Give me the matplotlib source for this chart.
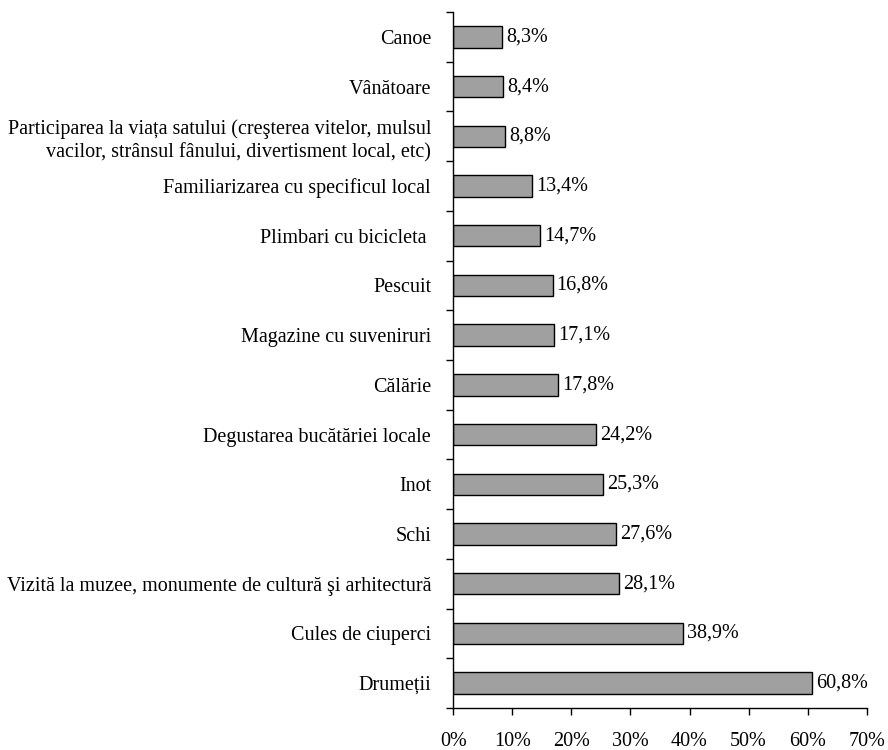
import matplotlib
matplotlib.use("Agg")
import matplotlib.pyplot as plt
from matplotlib.ticker import FixedLocator

categories = [
    "Drumeții",
    "Cules de ciuperci",
    "Vizită la muzee, monumente de cultură şi arhitectură",
    "Schi",
    "Inot",
    "Degustarea bucătăriei locale",
    "Călărie",
    "Magazine cu suveniruri",
    "Pescuit",
    "Plimbari cu bicicleta ",
    "Familiarizarea cu specificul local",
    "Participarea la viața satului (creşterea vitelor, mulsul\nvacilor, strânsul fânului, divertisment local, etc)",
    "Vânătoare",
    "Canoe",
]
values = [60.8, 38.9, 28.1, 27.6, 25.3, 24.2, 17.8, 17.1, 16.8, 14.7, 13.4, 8.8, 8.4, 8.3]
value_labels = ["60,8%", "38,9%", "28,1%", "27,6%", "25,3%", "24,2%", "17,8%",
                "17,1%", "16,8%", "14,7%", "13,4%", "8,8%", "8,4%", "8,3%"]
xticks = [0, 10, 20, 30, 40, 50, 60, 70]
xtick_labels = ["0%", "10%", "20%", "30%", "40%", "50%", "60%", "70%"]

plt.rcParams["font.family"] = ["Liberation Serif", "DejaVu Serif"]
fs = 14.5

fig = plt.figure(figsize=(8.88, 7.5), dpi=100)
ax = fig.add_axes([0.5105, 0.056, 0.4655, 0.928])

y = list(range(len(categories)))
ax.barh(y, values, height=0.43, color="#a0a0a0", edgecolor="black", linewidth=1.0)
for yi, v, lab in zip(y, values, value_labels):
    ax.text(v + 0.7, yi, lab, va="center", ha="left", fontsize=fs)

ax.set_xlim(0, 70)
ax.set_ylim(-0.5, len(categories) - 0.5)
ax.set_xticks(xticks)
ax.set_xticklabels(xtick_labels, fontsize=fs)
ax.set_yticks(y)
ax.set_yticklabels(categories, fontsize=fs, ha="right", linespacing=1.3)
ax.yaxis.set_minor_locator(FixedLocator([i - 0.5 for i in range(len(categories) + 1)]))

ax.tick_params(axis="y", which="major", length=0, pad=16)
ax.tick_params(axis="y", which="minor", length=5, width=1, direction="out")
ax.tick_params(axis="x", which="major", length=5, width=1, direction="out", pad=12)

for s in ["top", "right"]:
    ax.spines[s].set_visible(False)
ax.spines["left"].set_linewidth(1)
ax.spines["bottom"].set_linewidth(1)

fig.savefig("out.png", dpi=100, facecolor="white")
